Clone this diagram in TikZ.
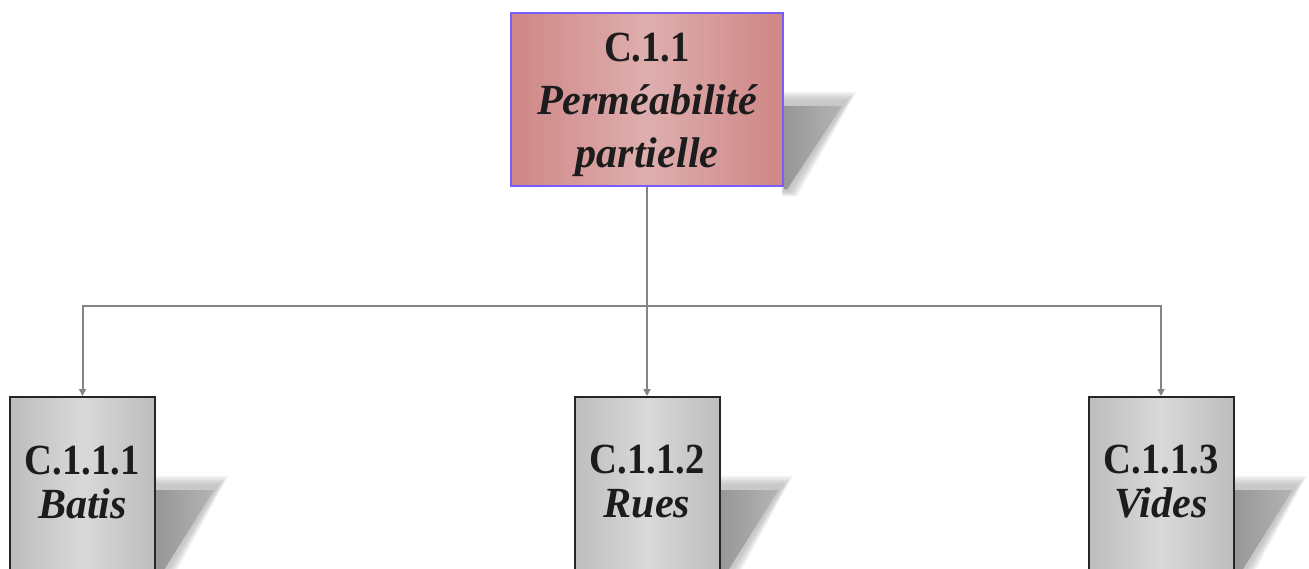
\documentclass[tikz,border=0pt]{standalone}
\usepackage{fontspec}
\setmainfont{Liberation Serif}[BoldFeatures={FakeStretch=0.9}, BoldItalicFeatures={FakeStretch=0.98}]
\usetikzlibrary{arrows.meta,backgrounds,calc}
\definecolor{pinkedge}{HTML}{CF8686}
\definecolor{pinkmid}{HTML}{DEAEAE}
\definecolor{violetborder}{HTML}{7A5CFA}
\definecolor{grayedge}{HTML}{BDBDBD}
\definecolor{graymid}{HTML}{D9D9D9}
\definecolor{shadowgray}{HTML}{979797}
\definecolor{shadowlight}{HTML}{B4B4B4}
\definecolor{linkgray}{HTML}{858585}
\definecolor{txt}{HTML}{1C1C1C}
\tikzset{
  topbox/.style={draw=violetborder, line width=2.5pt, left color=pinkedge, right color=pinkedge, middle color=pinkmid,
    minimum width=272pt, minimum height=173pt, inner sep=0pt},
  leafbox/.style={draw=black!85, line width=2pt, left color=grayedge, right color=grayedge, middle color=graymid,
    minimum width=145pt, minimum height=178pt, inner sep=0pt},
  toptext/.style={inner sep=0pt, align=center, text=txt, font=\fontsize{43}{53}\selectfont\bfseries},
  leaftext/.style={inner sep=0pt, align=center, text=txt, font=\fontsize{43}{44}\selectfont\bfseries},
  link/.style={draw=linkgray, line width=2pt},
  linkarrow/.style={link, -{Triangle[width=7pt,length=7pt]}}
}
\newcommand\boxshadow[1]{%
  \foreach \d in {12,10,8,6,4}{
    \fill[shadowgray, opacity=0.13]
      ($(#1.north east)+(-2,92-\d)$) -- ($(#1.north east)+(60+\d,92-\d)$) -- ($(#1.south east)+(3+0.8*\d,2+0.6*\d)$) -- ($(#1.south east)+(-2,2+0.6*\d)$) -- cycle;
  }
  \shade[left color=shadowgray, right color=shadowlight]
    ($(#1.north east)+(0,94)$) -- ($(#1.north east)+(58,94)$) -- ($(#1.south east)+(3,2)$) -- ($(#1.south east)+(0,2)$) -- cycle;
}
\begin{document}
\begin{tikzpicture}[x=1pt,y=-1pt]
\useasboundingbox (0,0) rectangle (1309,568);
\clip (0,0) rectangle (1309,568);

\node[topbox] (top) at (647,99.5) {};
\node[toptext] (toptxt) at (647,105) {C.1.1\\\itshape Perméabilité\\\itshape partielle};
\node[leafbox] (b1) at (82.5,486) {};
\node[leaftext] (b1txt) at (82.5,482) {C.1.1.1\\\itshape Batis};
\node[leafbox] (b2) at (647,486) {};
\node[leaftext] (b2txt) at (647,482) {C.1.1.2\\\itshape Rues};
\node[leafbox] (b3) at (1161,486) {};
\node[leaftext] (b3txt) at (1161,482) {C.1.1.3\\\itshape Vides};

\begin{scope}[on background layer]
  \fill[white] (0,0) rectangle (1309,568);
  \boxshadow{top}
  \boxshadow{b1}
  \boxshadow{b2}
  \boxshadow{b3}
\end{scope}

\coordinate (bus) at (647,305.5);
\draw[link] (top.south) -- (bus);
\draw[linkarrow] (bus) -| (b1.north);
\draw[linkarrow] (bus) -- (b2.north);
\draw[linkarrow] (bus) -| (b3.north);
\end{tikzpicture}
\end{document}
